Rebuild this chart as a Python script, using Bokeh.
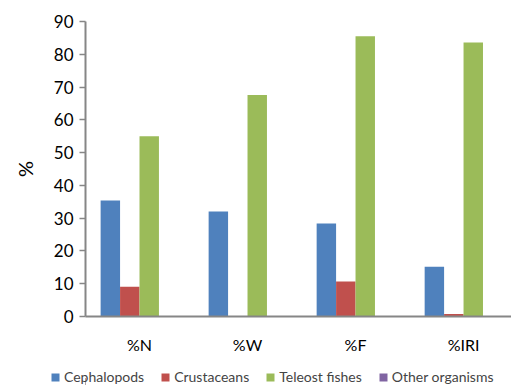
from bokeh.plotting import figure
from bokeh.layouts import column
from bokeh.models import Range1d, FixedTicker, Legend, LegendItem, ColumnDataSource
from bokeh.embed import file_html
from bokeh.resources import INLINE
import numpy as np

categories = ["%N", "%W", "%F", "%IRI"]
series_names = ["Cephalopods", "Crustaceans", "Teleost fishes", "Other organisms"]
cephalopods = [35.4, 32.0, 28.4, 15.2]
crustaceans = [9.1, 0.0, 10.7, 0.8]
teleost = [55.0, 67.6, 85.5, 83.6]
other = [0.0, 0.0, 0.0, 0.0]
colors = ["#4F81BD", "#C0504D", "#9BBB59", "#8064A2"]
y_ticks = list(range(0, 100, 10))

FONT = "Lato"
p = figure(frame_width=426, frame_height=295, output_backend="svg", toolbar_location=None,
           x_range=Range1d(0, 3.944), y_range=Range1d(0, 90),
           min_border_left=85, min_border_right=0, min_border_top=21, min_border_bottom=54)
p.outline_line_color = None
p.xgrid.visible = False
p.ygrid.visible = False

xc = np.arange(len(categories)) + 0.5
offsets = [-0.27, -0.09, 0.09, 0.27]
bw = 0.18
for name, vals, off, col in zip(series_names, [cephalopods, crustaceans, teleost, other], offsets, colors):
    src = ColumnDataSource(dict(x=xc + off, top=vals))
    p.vbar(x="x", top="top", width=bw, bottom=0, source=src, fill_color=col, line_color=None)

p.xaxis.ticker = FixedTicker(ticks=list(xc))
p.xaxis.major_label_overrides = {float(x): c for x, c in zip(xc, categories)}
p.xaxis.major_tick_line_color = None
p.xaxis.minor_tick_line_color = None
p.xaxis.axis_line_color = "#868686"
p.xaxis.axis_line_width = 2
p.xaxis.major_label_text_font = FONT
p.xaxis.major_label_text_font_size = "16px"
p.xaxis.major_label_text_color = "#000000"
p.xaxis.major_label_standoff = 12

p.yaxis.ticker = FixedTicker(ticks=y_ticks)
p.yaxis.minor_tick_line_color = None
p.yaxis.axis_line_color = "#868686"
p.yaxis.axis_line_width = 2
p.yaxis.major_tick_line_color = "#868686"
p.yaxis.major_tick_line_width = 1.5
p.yaxis.major_tick_out = 6
p.yaxis.major_tick_in = 0
p.yaxis.major_label_text_font = FONT
p.yaxis.major_label_text_font_size = "17px"
p.yaxis.major_label_text_color = "#000000"
p.yaxis.major_label_standoff = 6
p.yaxis.axis_label = "%"
p.yaxis.axis_label_text_font = FONT
p.yaxis.axis_label_text_font_size = "20px"
p.yaxis.axis_label_text_font_style = "normal"
p.yaxis.axis_label_text_color = "#000000"
p.yaxis.axis_label_standoff = 14

# legend strip below the chart (swatch renderers sit outside the visible range)
lf = figure(frame_width=511, frame_height=15, output_backend="svg", toolbar_location=None,
            x_range=Range1d(0, 1), y_range=Range1d(0, 1), x_axis_type=None, y_axis_type=None,
            min_border_left=0, min_border_right=0, min_border_top=0, min_border_bottom=0)
lf.outline_line_color = None
lf.xgrid.visible = False
lf.ygrid.visible = False
items = []
for name, col in zip(series_names, colors):
    r = lf.vbar(x=[-5], top=[0.5], width=0.1, fill_color=col, line_color=None)
    items.append(LegendItem(label=name, renderers=[r]))
legend = Legend(items=items, orientation="horizontal", location=(50, 0),
                glyph_width=10, glyph_height=10, label_text_font=FONT,
                label_text_font_size="14px", label_standoff=4, spacing=16,
                label_height=14,
                border_line_color=None, background_fill_alpha=0, margin=0, padding=0)
lf.add_layout(legend, "center")

layout = column(p, lf, spacing=0)
open("out.html", "w").write(file_html(layout, INLINE))
